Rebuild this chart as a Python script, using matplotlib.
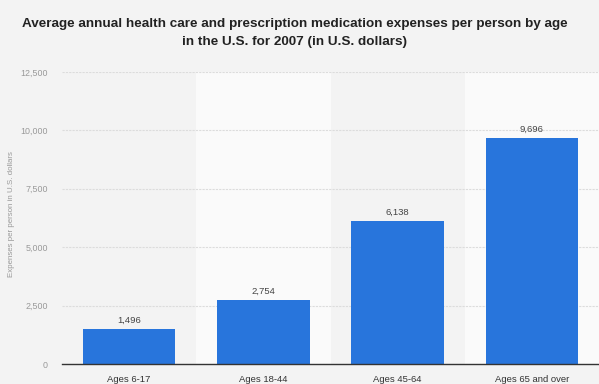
import matplotlib as mpl
import matplotlib.pyplot as plt
from matplotlib.ticker import FuncFormatter

categories = ["Ages 6-17", "Ages 18-44", "Ages 45-64", "Ages 65 and over"]
values = [1496, 2754, 6138, 9696]
yticks = [0, 2500, 5000, 7500, 10000, 12500]

title = ("Average annual health care and prescription medication expenses per person by age\n"
         "in the U.S. for 2007 (in U.S. dollars)")
ylabel = "Expenses per person in U.S. dollars"


def main():
    mpl.rcParams["font.family"] = ["Liberation Sans", "DejaVu Sans"]
    fig = plt.figure(figsize=(5.99, 3.84), dpi=100, facecolor="#f3f3f3")
    ax = fig.add_axes([62 / 599, 20 / 384, 537 / 599, 292 / 384])
    ax.set_facecolor("#f3f3f3")

    x = range(len(categories))
    # alternating column bands
    for i in x:
        if i % 2 == 1:
            ax.axvspan(i - 0.5, i + 0.5, color="#fafafa", zorder=0, lw=0)

    bars = ax.bar(x, values, width=0.69, color="#2875dc", zorder=3)
    for b, v in zip(bars, values):
        ax.annotate(f"{v:,}", (b.get_x() + b.get_width() / 2, v), xytext=(0, 3),
                    textcoords="offset points", ha="center", va="bottom",
                    fontsize=6.8, color="#444444")

    ax.set_xlim(-0.5, 3.5)
    ax.set_ylim(0, 12500)
    ax.set_yticks(yticks)
    ax.yaxis.set_major_formatter(FuncFormatter(lambda v, _: f"{int(v):,}"))
    ax.set_xticks(list(x))
    ax.set_xticklabels(categories)
    ax.tick_params(axis="x", length=0, pad=8, labelsize=6.8, labelcolor="#333333")
    ax.tick_params(axis="y", length=0, pad=10, labelsize=6.4, labelcolor="#999999")
    ax.grid(axis="y", color="#dcdcdc", lw=0.8, ls=(0, (2, 1)), zorder=1)
    for s in ["top", "right", "left"]:
        ax.spines[s].set_visible(False)
    ax.spines["bottom"].set_color("#333333")
    ax.spines["bottom"].set_linewidth(1.0)
    ax.spines["bottom"].set_zorder(4)

    fig.text(12 / 599, 1 - 214 / 384, ylabel, rotation=90, ha="center", va="center",
             fontsize=5.7, color="#999999")
    fig.text(295 / 599, 1 - 33 / 384, title, ha="center", va="center",
             fontsize=9.7, fontweight="bold", color="#222222", linespacing=1.75)

    fig.savefig("out.png", dpi=100, facecolor=fig.get_facecolor())


if __name__ == "__main__":
    main()
